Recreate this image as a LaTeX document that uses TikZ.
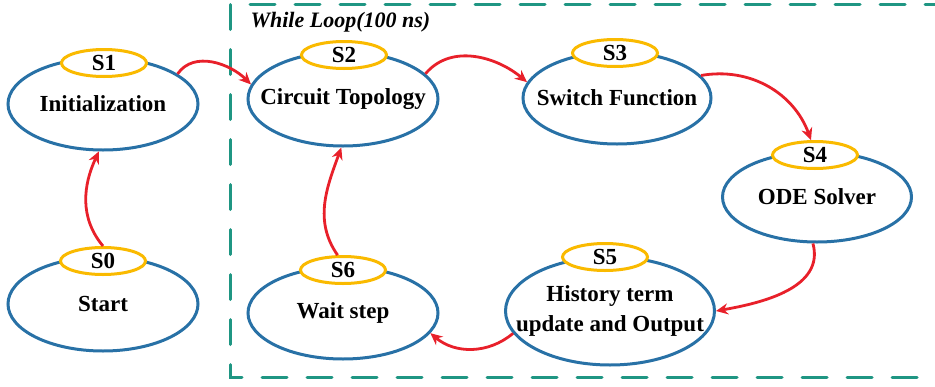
\documentclass[tikz,border=0pt]{standalone}
\usepackage{fontspec}
\setmainfont{Liberation Serif}
\usetikzlibrary{shapes.geometric,arrows.meta}
\definecolor{boxteal}{RGB}{31,150,131}
\definecolor{arrred}{RGB}{232,32,42}
\definecolor{ellblue}{RGB}{40,113,166}
\definecolor{ellyel}{RGB}{250,186,0}
\tikzset{
  ellabel/.style={font=\bfseries\fontsize{23}{26}\selectfont, align=center, inner sep=0pt},
  bigell/.style={ellipse, draw=ellblue, line width=3pt, inner sep=0pt, fill=white,
    label={[ellabel]center:{#1}}},
  smallell/.style={ellipse, draw=ellyel, line width=3pt, inner sep=0pt, fill=white,
    minimum width=85pt, minimum height=27pt, font=\bfseries\fontsize{23}{26}\selectfont},
  arr/.style={draw=arrred, line width=2.8pt, -{Stealth[length=12pt,width=11pt]}},
  loopbox/.style={draw=boxteal, line width=3pt, line cap=round, dash pattern=on 25pt off 20pt}
}
\begin{document}
\begin{tikzpicture}[x=1pt,y=1pt]
\useasboundingbox (0,-386) rectangle (935,0);
\draw[loopbox] (950,-4.5) -- (230,-4.5) -- (230,-377.5) -- (950,-377.5);
\node[anchor=west, font=\bfseries\itshape\fontsize{22}{24}\selectfont] (title) at (247,-22) {While Loop(100 ns)};
% big ellipses
\node[bigell={Initialization}, minimum width=190pt, minimum height=92pt] (s1) at (103,-104) {};
\node[bigell={Start}, minimum width=190pt, minimum height=94pt] (s0) at (103,-304) {};
\node[bigell={Circuit Topology}, minimum width=190pt, minimum height=94pt] (s2) at (343,-99) {};
\node[bigell={Switch Function}, minimum width=188pt, minimum height=92pt] (s3) at (617,-98) {};
\node[bigell={ODE Solver}, minimum width=189pt, minimum height=90pt] (s4) at (817,-197) {};
\node[bigell={History term\\[4pt]update and Output}, minimum width=209pt, minimum height=108pt] (s5) at (610,-311) {};
\node[bigell={Wait step}, minimum width=190pt, minimum height=92pt] (s6) at (343,-313) {};
% small ellipses
\node[smallell] (s1t) at (104,-63) {S1};
\node[smallell] (s0t) at (103,-261) {S0};
\node[smallell] (s2t) at (344,-55) {S2};
\node[smallell] (s3t) at (615,-53) {S3};
\node[smallell] (s4t) at (815,-155) {S4};
\node[smallell] (s5t) at (605,-257) {S5};
\node[smallell] (s6t) at (343,-270) {S6};
% arrows
\draw[arr] (s0t.north) to[out=130,in=-115] (s1.265);
\draw[arr] (s1.22) to[out=55,in=135] (s2.171);
\draw[arr] (s2.17) to[out=50,in=140] (s3.170);
\draw[arr] (s3.15) to[out=10,in=110] (s4t.105);
\draw[arr] (s4.265) to[out=-75,in=10] (s5.east);
\draw[arr] (s5.193) to[out=-140,in=-40] (s6.-13);
\draw[arr] (s6t.110) to[out=125,in=-110] (s2.268);
\end{tikzpicture}
\end{document}
